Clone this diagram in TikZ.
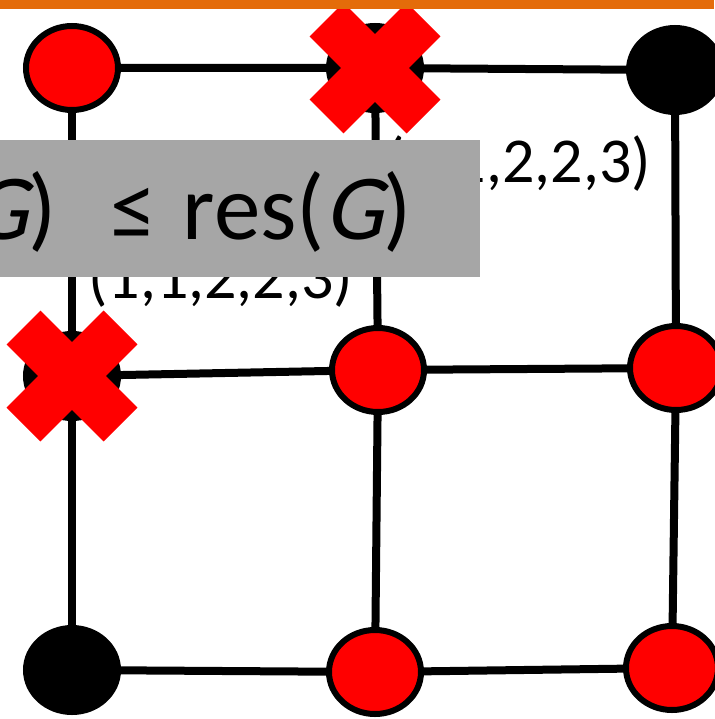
\documentclass[tikz,border=0pt]{standalone}
\usepackage{fontspec}
\setmainfont{Carlito}[AutoFakeSlant=0.22]
\usetikzlibrary{shapes,positioning,backgrounds}
\definecolor{slidegray}{HTML}{A6A6A6}
\definecolor{slideorange}{HTML}{E46C0A}
\tikzstyle{vred} = [ellipse, minimum width=92pt, minimum height=84pt, draw=black, line width=6pt, fill=red]
\tikzstyle{vblack} = [ellipse, minimum width=92pt, minimum height=84pt, draw=black, line width=6pt, fill=black]
\tikzstyle{edge} = [line width=8pt]
\tikzstyle{xmark} = [cross out, draw=red, line width=48pt, minimum size=97pt, inner sep=0pt, outer sep=0pt]
\tikzstyle{seq} = [font=\fontsize{64}{76}\selectfont, inner sep=0pt]

\begin{document}
\begin{tikzpicture}[x=1pt, y=-1pt]
\useasboundingbox (0,0) rectangle (714,719);

% Vertices (row, column)
\node (v11) [vred] at (72,68) {};
\node (v12) [vblack] at (375,68) {};
\node (v13) [vblack] at (675,70) {};
\node (v21) [vblack] at (72,376) {};
\node (v22) [vred] at (378,370) {};
\node (v23) [vred] at (676,368) {};
\node (v31) [vblack] at (72,670) {};
\node (v32) [vred] at (375,672) {};
\node (v33) [vred] at (672,668) {};

% Edges
\begin{scope}[on background layer]
\draw [edge] (v11.center) -- (v12.center) -- (v13.center);
\draw [edge] (v21.center) -- (v22.center) -- (v23.center);
\draw [edge] (v31.center) -- (v32.center) -- (v33.center);
\draw [edge] (v11.center) -- (v21.center) -- (v31.center);
\draw [edge] (v12.center) -- (v22.center) -- (v32.center);
\draw [edge] (v13.center) -- (v23.center) -- (v33.center);
\end{scope}

% Sequences
\node (seqright) [seq, anchor=base east] at (651,183) {(1,1,2,2,3)};
\node (seqleft) [seq, anchor=base west] at (88,298) {(1,1,2,2,3)};

% Claim
\node (claim) [fill=slidegray, anchor=north east, minimum width=520pt, minimum height=137pt, inner sep=0pt] at (480,140) {};
\node (claimtext) [font=\fontsize{93}{112}\selectfont, inner sep=0pt, anchor=base east] at (412,239) {\textit{G})\hspace{0.36em} ≤\hspace{0.05em} res(\textit{G})};

% Removed vertices
\node (x12) [xmark] at (v12.center) {};
\node (x21) [xmark] at (v21.center) {};

% Slide bar
\fill [slideorange] (0,0) rectangle (714,9);

\end{tikzpicture}
\end{document}
